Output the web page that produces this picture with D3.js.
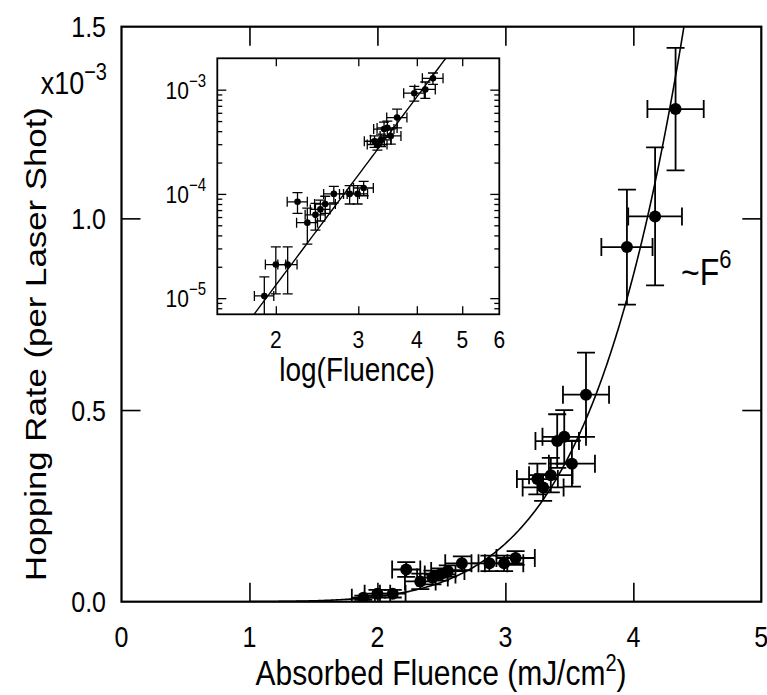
<!DOCTYPE html>
<html>
<head>
<meta charset="utf-8">
<script src="https://cdn.jsdelivr.net/npm/d3@7"></script>
<style>
  body { margin: 0; background: #fff; }
  svg { display: block; }
  text { font-family: "Liberation Sans", Arial, sans-serif; fill: #000; }
</style>
</head>
<body>
<div id="chart"></div>
<script>
// hopping rate vs absorbed fluence, inset in log-log

var fluence    = [1.89, 2.00, 2.12, 2.225, 2.335, 2.43, 2.49, 2.55, 2.66, 2.875, 2.99, 3.08,
                  3.25, 3.295, 3.355, 3.405, 3.46, 3.52, 3.63, 3.95, 4.17, 4.33];
var fluenceErr = [0.09, 0.10, 0.10, 0.11, 0.12, 0.12, 0.12, 0.13, 0.13, 0.14, 0.15, 0.15,
                  0.16, 0.16, 0.17, 0.17, 0.17, 0.18, 0.18, 0.20, 0.21, 0.22];
// rate in units of 1e-3 per laser shot
var rate       = [0.0105, 0.021, 0.021, 0.084, 0.053, 0.063, 0.071, 0.080, 0.100, 0.100, 0.100, 0.114,
                  0.320, 0.298, 0.330, 0.419, 0.430, 0.360, 0.540, 0.925, 1.005, 1.285];
var rateErr    = [0.0055, 0.010, 0.010, 0.019, 0.020, 0.018, 0.016, 0.015, 0.018, 0.020, 0.020, 0.018,
                  0.040, 0.035, 0.045, 0.070, 0.070, 0.060, 0.110, 0.150, 0.180, 0.160];

// power law fit  rate = A * F^n
var fit_A = 2.08e-4;
var fit_n = 6;

var x_ticks = [0, 1, 2, 3, 4, 5];
var y_ticks = [0.0, 0.5, 1.0, 1.5];
var inset_x_ticks = [2, 3, 4, 5, 6];
var inset_y_ticks = [1e-5, 1e-4, 1e-3];
var inset_y_labels = ['-5', '-4', '-3'];

var data = fluence.map(function(f, i){
    return {f: f, fe: fluenceErr[i], r: rate[i], re: rateErr[i]};
});

var svg_size = {'width': 767, 'height': 695};
var SY = 1.18;   // the figure is stretched vertically, so is the lettering

var frame = {'left': 121.5, 'right': 761.3, 'top': 26.7, 'bottom': 601.7};
var inset = {'left': 217.3, 'right': 499.3, 'top': 58.3, 'bottom': 314.3};

var svg = d3.select('#chart')
    .append('svg')
    .attr('width', svg_size.width)
    .attr('height', svg_size.height);

var defs = svg.append('defs');
defs.append('clipPath').attr('id', 'clip-main')
    .append('rect')
    .attr('x', frame.left).attr('y', frame.top)
    .attr('width', frame.right - frame.left).attr('height', frame.bottom - frame.top);
defs.append('clipPath').attr('id', 'clip-inset')
    .append('rect')
    .attr('x', inset.left).attr('y', inset.top)
    .attr('width', inset.right - inset.left).attr('height', inset.bottom - inset.top);

function label(g, x, y, str, size, anchor){
    return g.append('text')
        .attr('transform', 'translate(' + x + ',' + y + ') scale(1,' + SY + ')')
        .attr('font-size', size)
        .attr('text-anchor', anchor || 'middle')
        .text(str);
}

// ---------- main plot ----------
var x_scale = d3.scaleLinear().domain([0, 5]).range([frame.left, frame.right]);
var y_scale = d3.scaleLinear().domain([0, 1.5]).range([frame.bottom, frame.top]);

var tick_len = 19;
function ticks_only(axis, g){
    g.call(axis);
    g.select('.domain').remove();
    g.selectAll('.tick line').attr('stroke', '#000').attr('stroke-width', 1.6);
}
var inner_x = x_ticks.filter(function(d){ return d > 0 && d < 5; });
var inner_y = y_ticks.filter(function(d){ return d > 0 && d < 1.5; });

ticks_only(d3.axisBottom(x_scale).tickValues(inner_x).tickSize(-tick_len).tickFormat(''),
    svg.append('g').attr('transform', 'translate(0,' + frame.bottom + ')'));
ticks_only(d3.axisTop(x_scale).tickValues(inner_x).tickSize(-tick_len).tickFormat(''),
    svg.append('g').attr('transform', 'translate(0,' + frame.top + ')'));
ticks_only(d3.axisLeft(y_scale).tickValues(inner_y).tickSize(-tick_len).tickFormat(''),
    svg.append('g').attr('transform', 'translate(' + frame.left + ',0)'));
ticks_only(d3.axisRight(y_scale).tickValues(inner_y).tickSize(-tick_len).tickFormat(''),
    svg.append('g').attr('transform', 'translate(' + frame.right + ',0)'));

svg.append('rect')
    .attr('x', frame.left).attr('y', frame.top)
    .attr('width', frame.right - frame.left).attr('height', frame.bottom - frame.top)
    .attr('fill', 'none').attr('stroke', '#000').attr('stroke-width', 2.2);

var tick_font = 25;
x_ticks.forEach(function(d){
    label(svg, x_scale(d), 646.5, d3.format('d')(d), tick_font);
});
y_ticks.forEach(function(d){
    label(svg, 106, y_scale(d) + 0.358 * tick_font * SY, d3.format('.1f')(d), tick_font, 'end');
});

var mult = label(svg, 107, 94, 'x10', 27, 'end');
mult.append('tspan').attr('dy', -12).attr('font-size', 20).text('\u22123');

var xt = label(svg, 441, 685, 'Absorbed Fluence (mJ/cm', 30);
xt.append('tspan').attr('dy', -12).attr('font-size', 20).text('2');
xt.append('tspan').attr('dy', 12).text(')');

svg.append('text')
    .attr('transform', 'translate(46,344) rotate(-90) scale(1,' + (1 / SY) + ')')
    .attr('font-size', 29.5 * SY)
    .attr('text-anchor', 'middle')
    .text('Hopping Rate (per Laser Shot)');

var fl = label(svg, 681, 285, '~F', 32, 'start');
fl.append('tspan').attr('dy', -14).attr('font-size', 22).text('6');

// fit curve
var main_fit = d3.range(1.0, 4.5, 0.01).map(function(f){ return [f, fit_A * Math.pow(f, fit_n)]; });
svg.append('path')
    .datum(main_fit)
    .attr('clip-path', 'url(#clip-main)')
    .attr('fill', 'none').attr('stroke', '#000').attr('stroke-width', 1.6)
    .attr('d', d3.line()
        .x(function(d){ return x_scale(d[0]); })
        .y(function(d){ return y_scale(d[1]); }));

function draw_points(g, xs, ys, cap, r, sw, to_y){
    var pts = g.selectAll('.pt').data(data).enter().append('g').classed('pt', true);
    // horizontal error bar
    pts.append('line')
        .attr('x1', function(d){ return xs(d.f - d.fe); })
        .attr('x2', function(d){ return xs(d.f + d.fe); })
        .attr('y1', function(d){ return ys(to_y(d.r)); })
        .attr('y2', function(d){ return ys(to_y(d.r)); });
    pts.append('line')
        .attr('x1', function(d){ return xs(d.f - d.fe); })
        .attr('x2', function(d){ return xs(d.f - d.fe); })
        .attr('y1', function(d){ return ys(to_y(d.r)) - cap; })
        .attr('y2', function(d){ return ys(to_y(d.r)) + cap; });
    pts.append('line')
        .attr('x1', function(d){ return xs(d.f + d.fe); })
        .attr('x2', function(d){ return xs(d.f + d.fe); })
        .attr('y1', function(d){ return ys(to_y(d.r)) - cap; })
        .attr('y2', function(d){ return ys(to_y(d.r)) + cap; });
    // vertical error bar
    pts.append('line')
        .attr('x1', function(d){ return xs(d.f); })
        .attr('x2', function(d){ return xs(d.f); })
        .attr('y1', function(d){ return ys(to_y(Math.max(d.r - d.re, 1e-7))); })
        .attr('y2', function(d){ return ys(to_y(d.r + d.re)); });
    pts.append('line')
        .attr('x1', function(d){ return xs(d.f) - cap; })
        .attr('x2', function(d){ return xs(d.f) + cap; })
        .attr('y1', function(d){ return ys(to_y(d.r + d.re)); })
        .attr('y2', function(d){ return ys(to_y(d.r + d.re)); });
    pts.append('line')
        .attr('x1', function(d){ return xs(d.f) - cap; })
        .attr('x2', function(d){ return xs(d.f) + cap; })
        .attr('y1', function(d){ return ys(to_y(Math.max(d.r - d.re, 1e-7))); })
        .attr('y2', function(d){ return ys(to_y(Math.max(d.r - d.re, 1e-7))); });
    pts.selectAll('line').attr('stroke', '#000').attr('stroke-width', sw);
    pts.append('circle')
        .attr('cx', function(d){ return xs(d.f); })
        .attr('cy', function(d){ return ys(to_y(d.r)); })
        .attr('r', r)
        .attr('fill', '#000');
}

var main_points = svg.append('g').attr('clip-path', 'url(#clip-main)');
draw_points(main_points, x_scale, y_scale, 9, 6, 1.8, function(v){ return v; });

// ---------- inset ----------
var xi_scale = d3.scaleLog().domain([1.5, 6]).range([inset.left, inset.right]);
var yi_scale = d3.scaleLog().domain([7e-6, 2e-3]).range([inset.bottom, inset.top]);

svg.append('rect')
    .attr('x', inset.left).attr('y', inset.top)
    .attr('width', inset.right - inset.left).attr('height', inset.bottom - inset.top)
    .attr('fill', '#fff').attr('stroke', 'none');

var minor_y = [];
[1e-6, 1e-5, 1e-4, 1e-3].forEach(function(dec){
    for (var k = 2; k <= 9; k++) {
        var v = k * dec;
        if (v > 7e-6 && v < 2e-3) minor_y.push(v);
    }
});

function inset_ticks(axis, g){
    g.call(axis);
    g.select('.domain').remove();
    g.selectAll('.tick line').attr('stroke', '#000').attr('stroke-width', 1.3);
}
var inner_xi = inset_x_ticks.filter(function(d){ return d < 6; });
inset_ticks(d3.axisBottom(xi_scale).tickValues(inner_xi).tickSize(-8).tickFormat(''),
    svg.append('g').attr('transform', 'translate(0,' + inset.bottom + ')'));
inset_ticks(d3.axisTop(xi_scale).tickValues(inner_xi).tickSize(-8).tickFormat(''),
    svg.append('g').attr('transform', 'translate(0,' + inset.top + ')'));
inset_ticks(d3.axisLeft(yi_scale).tickValues(inset_y_ticks).tickSize(-9).tickFormat(''),
    svg.append('g').attr('transform', 'translate(' + inset.left + ',0)'));
inset_ticks(d3.axisRight(yi_scale).tickValues(inset_y_ticks).tickSize(-9).tickFormat(''),
    svg.append('g').attr('transform', 'translate(' + inset.right + ',0)'));
inset_ticks(d3.axisLeft(yi_scale).tickValues(minor_y).tickSize(-5).tickFormat(''),
    svg.append('g').attr('transform', 'translate(' + inset.left + ',0)'));
inset_ticks(d3.axisRight(yi_scale).tickValues(minor_y).tickSize(-5).tickFormat(''),
    svg.append('g').attr('transform', 'translate(' + inset.right + ',0)'));

var inset_fit = d3.range(1.5, 6.01, 0.05).map(function(f){ return [f, fit_A * 1e-3 * Math.pow(f, fit_n)]; });
svg.append('path')
    .datum(inset_fit)
    .attr('clip-path', 'url(#clip-inset)')
    .attr('fill', 'none').attr('stroke', '#000').attr('stroke-width', 1.4)
    .attr('d', d3.line()
        .x(function(d){ return xi_scale(d[0]); })
        .y(function(d){ return yi_scale(d[1]); }));

var inset_points = svg.append('g').attr('clip-path', 'url(#clip-inset)');
draw_points(inset_points, xi_scale, yi_scale, 5, 3.3, 1.3, function(v){ return v * 1e-3; });

svg.append('rect')
    .attr('x', inset.left).attr('y', inset.top)
    .attr('width', inset.right - inset.left).attr('height', inset.bottom - inset.top)
    .attr('fill', 'none').attr('stroke', '#000').attr('stroke-width', 1.8);

var inset_font = 21;
inset_x_ticks.forEach(function(d){
    label(svg, xi_scale(d), 348, d3.format('d')(d), inset_font);
});
inset_y_ticks.forEach(function(d, i){
    var t = label(svg, 206, yi_scale(d) + 0.358 * inset_font * SY, '10', inset_font, 'end');
    t.append('tspan').attr('dy', -10).attr('font-size', 15).text('\u2212' + inset_y_labels[i].slice(1));
});
label(svg, 357, 381, 'log(Fluence)', 28);
</script>
</body>
</html>
